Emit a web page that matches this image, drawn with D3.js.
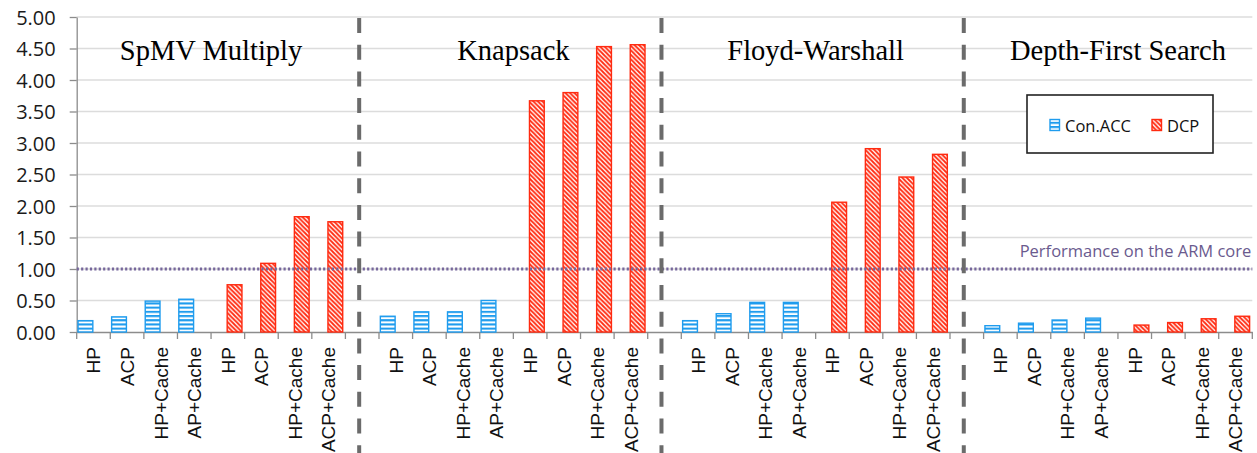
<!DOCTYPE html>
<html>
<head>
<meta charset="utf-8">
<script src="https://cdn.jsdelivr.net/npm/d3@7"></script>
<style>
  html, body { margin: 0; padding: 0; background: #fff; }
  svg { display: block; }
</style>
</head>
<body>
<svg id="chart" width="1257" height="453"></svg>
<script>
// ---- data ----
const groups = ["SpMV Multiply", "Knapsack", "Floyd-Warshall", "Depth-First Search"];
const conLabels = ["HP", "ACP", "HP+Cache", "AP+Cache"];
const dcpLabels = ["HP", "ACP", "HP+Cache", "ACP+Cache"];
const seriesNames = ["Con.ACC", "DCP"];
const conAccValues = [
  [0.18, 0.24, 0.49, 0.52],
  [0.25, 0.32, 0.32, 0.50],
  [0.18, 0.29, 0.47, 0.47],
  [0.10, 0.14, 0.19, 0.22]
];
const dcpValues = [
  [0.75, 1.09, 1.83, 1.75],
  [3.67, 3.80, 4.53, 4.56],
  [2.06, 2.91, 2.46, 2.82],
  [0.11, 0.15, 0.21, 0.25]
];
const yTicks = [0, 0.5, 1, 1.5, 2, 2.5, 3, 3.5, 4, 4.5, 5];
const armBaseline = 1.0;
const armLabel = "Performance on the ARM core";

(function () {
// ---- build slots ----
const slots = [];
groups.forEach((g, gi) => {
  conLabels.forEach((l, i) => slots.push({id: `g${gi}-c${i}`, label: l, group: gi, series: "Con.ACC", value: conAccValues[gi][i]}));
  dcpLabels.forEach((l, i) => slots.push({id: `g${gi}-d${i}`, label: l, group: gi, series: "DCP", value: dcpValues[gi][i]}));
  if (gi < groups.length - 1) slots.push({id: `sep${gi}`, label: "", group: gi, series: null, value: null});
});

const svg = d3.select("#chart");
const pLeft = 76.7, pRight = 1252.3, pTop = 17, pBottom = 332;

const x = d3.scaleBand().domain(slots.map(d => d.id)).range([pLeft, pRight]).padding(0);
const y = d3.scaleLinear().domain([0, 5]).range([pBottom, pTop]);
const bw = x.bandwidth();
const sub = d3.scaleBand().domain(seriesNames).range([bw * 0.04, bw * 0.92]).padding(0);

// ---- patterns ----
const defs = svg.append("defs");
const blue = "#1f9cee", red = "#ff2a10";
const pb = defs.append("pattern").attr("id", "pBlue").attr("patternUnits", "userSpaceOnUse")
  .attr("width", 6).attr("height", 4.2);
pb.append("rect").attr("width", 6).attr("height", 4.2).attr("fill", "#fff");
pb.append("rect").attr("y", 0).attr("width", 6).attr("height", 2.1).attr("fill", blue);

const pr = defs.append("pattern").attr("id", "pRed").attr("patternUnits", "userSpaceOnUse")
  .attr("width", 4.5).attr("height", 4.5);
pr.append("rect").attr("width", 4.5).attr("height", 4.5).attr("fill", "#fff");
pr.append("path").attr("d", "M0,0 L4.5,4.5 M-1,3.5 L1,5.5 M3.5,-1 L5.5,1")
  .attr("stroke", red).attr("stroke-width", 1.8);

// ---- grid ----
svg.append("g").selectAll("line").data(yTicks.filter(t => t > 0)).join("line")
  .attr("x1", pLeft).attr("x2", pRight)
  .attr("y1", d => y(d)).attr("y2", d => y(d))
  .attr("stroke", "#dcdcdc").attr("stroke-width", 1.3);

// ---- y axis ----
const yAxis = svg.append("g").attr("transform", `translate(${pLeft},0)`)
  .call(d3.axisLeft(y).tickValues(yTicks).tickFormat(d3.format(".2f")).tickSize(7).tickSizeOuter(0));
yAxis.select(".domain").attr("stroke", "#8c8c8c").attr("stroke-width", 1.3);
yAxis.selectAll(".tick line").attr("stroke", "#8c8c8c").attr("stroke-width", 1.3);
yAxis.selectAll(".tick text").attr("x", -21).attr("dy", "0.36em")
  .style("font-family", "'Open Sans', sans-serif").style("font-size", "20px").attr("fill", "#1a1a1a");

// ---- x axis ----
const xAxis = svg.append("g").attr("transform", `translate(0,${pBottom})`)
  .call(d3.axisBottom(x).tickSize(0).tickSizeOuter(0).tickFormat(id => slots.find(s => s.id === id).label));
xAxis.select(".domain").attr("stroke", "#8c8c8c").attr("stroke-width", 1.3);
xAxis.selectAll(".tick text")
  .attr("transform", "rotate(-90)").attr("x", -15).attr("y", 0).attr("dy", "0.36em")
  .style("text-anchor", "end")
  .style("font-family", "'Liberation Sans', Arial, sans-serif").style("font-size", "19px").attr("fill", "#111");
// boundary ticks
const bounds = slots.map(s => x(s.id)).concat([pRight]);
svg.append("g").selectAll("line").data(bounds).join("line")
  .attr("x1", d => d).attr("x2", d => d).attr("y1", pBottom).attr("y2", pBottom + 7)
  .attr("stroke", "#8c8c8c").attr("stroke-width", 1.3);

// ---- bars ----
const barData = slots.filter(s => s.series);
svg.append("g").selectAll("rect").data(barData).join("rect")
  .attr("x", d => x(d.id) + sub(d.series))
  .attr("width", sub.bandwidth())
  .attr("y", d => y(d.value))
  .attr("height", d => y(0) - y(d.value))
  .attr("fill", d => d.series === "Con.ACC" ? "url(#pBlue)" : "url(#pRed)")
  .attr("stroke", d => d.series === "Con.ACC" ? blue : red)
  .attr("stroke-width", 1.4);

// ---- ARM reference line ----
svg.append("line").attr("x1", pLeft).attr("x2", pRight)
  .attr("y1", y(armBaseline)).attr("y2", y(armBaseline))
  .attr("stroke", "#76679b").attr("stroke-width", 3).attr("stroke-dasharray", "2.2,2.2");
svg.append("text").attr("x", pRight - 1).attr("y", y(armBaseline) - 12)
  .attr("text-anchor", "end").attr("fill", "#6a5a8e")
  .style("font-family", "'Open Sans', sans-serif").style("font-size", "16.5px")
  .text(armLabel);

// ---- separators ----
const seps = slots.filter(s => !s.series);
svg.append("g").selectAll("line").data(seps).join("line")
  .attr("x1", d => x(d.id) + bw * 0.41).attr("x2", d => x(d.id) + bw * 0.41)
  .attr("y1", 18).attr("y2", 453)
  .attr("stroke", "#6b6b6b").attr("stroke-width", 4).attr("stroke-dasharray", "15,11.7");

// ---- group titles ----
svg.append("g").selectAll("text").data(groups).join("text")
  .attr("x", (g, gi) => {
    const ids = slots.filter(s => s.group === gi && s.series).map(s => s.id);
    return (x(ids[0]) + x(ids[ids.length - 1]) + bw) / 2;
  })
  .attr("y", 60)
  .attr("text-anchor", "middle")
  .style("font-family", "'Liberation Serif', 'Times New Roman', serif").style("font-size", "28.5px")
  .attr("fill", "#000")
  .text(d => d);

// ---- legend ----
const lg = svg.append("g");
lg.append("rect").attr("x", 1027).attr("y", 95).attr("width", 186).attr("height", 58)
  .attr("fill", "#fff").attr("stroke", "#222").attr("stroke-width", 1.6);
const legendItems = [
  {name: "Con.ACC", fill: "url(#pBlue)", stroke: blue, sx: 1050, tx: 1065},
  {name: "DCP", fill: "url(#pRed)", stroke: red, sx: 1152, tx: 1167}
];
legendItems.forEach(it => {
  lg.append("rect").attr("x", it.sx).attr("y", 119.5).attr("width", 9.5).attr("height", 11)
    .attr("fill", it.fill).attr("stroke", it.stroke).attr("stroke-width", 1.4);
  lg.append("text").attr("x", it.tx).attr("y", 131.5)
    .style("font-family", "'Open Sans', sans-serif").style("font-size", "16.5px").attr("fill", "#111")
    .text(it.name);
});
})();
</script>
</body>
</html>
